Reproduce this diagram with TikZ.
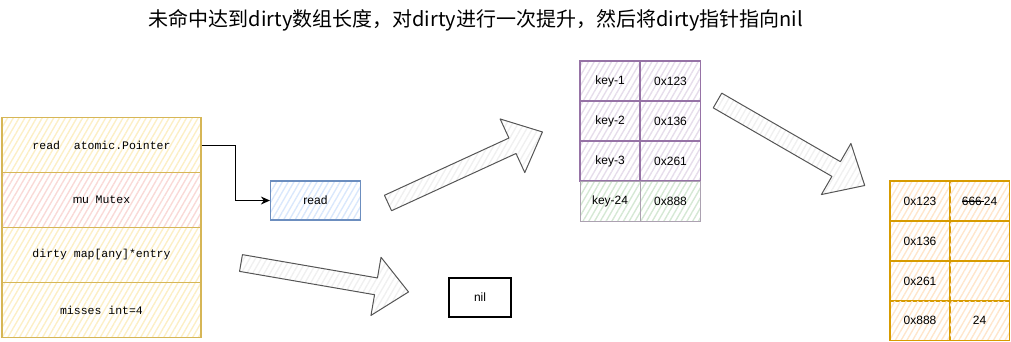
\documentclass[tikz,border=0pt]{standalone}
\usepackage{fontspec}
\setmainfont{Liberation Sans}
\newfontfamily\cjk{Noto Sans CJK SC}
\newfontfamily\monof{Liberation Mono}
\usetikzlibrary{patterns.meta,arrows.meta}
\definecolor{ylw}{HTML}{D6B656}
\definecolor{ylwf}{HTML}{FCEFC6}
\definecolor{pnkf}{HTML}{F9DAD7}
\definecolor{blu}{HTML}{6C8EBF}
\definecolor{bluf}{HTML}{DAE8FC}
\definecolor{pur}{HTML}{9673A6}
\definecolor{purf}{HTML}{E6DDEB}
\definecolor{grnf}{HTML}{D5E8D4}
\definecolor{org}{HTML}{D79B00}
\definecolor{orgf}{HTML}{FFE6CC}
\definecolor{arr}{HTML}{555555}
\newsavebox\strkbox
\newcommand\mystrike[1]{\sbox\strkbox{#1}\rlap{\rule[0.3em]{\wd\strkbox}{0.7pt}}\usebox{\strkbox}}
\newcommand\blockarrow[2]{%
  \begin{scope}[shift={#1},rotate=#2]
    \draw[barrow] (0,-8.5) -- (137,-8.5) -- (137,-29.5) -- (170,0) -- (137,29.5) -- (137,8.5) -- (0,8.5) -- cycle;
  \end{scope}}
\tikzset{
  hatch/.style={pattern={Lines[angle=60,distance=5pt,line width=1.4pt]},pattern color=#1},
  cell/.style={draw=#1,line width=1.2pt,inner sep=0pt,anchor=center},
  ycell/.style={cell=ylw,hatch=ylwf,minimum width=199pt,minimum height=55pt,font=\monof\fontsize{11.5}{13}\selectfont},
  pcell/.style={cell=pur,hatch=purf,minimum width=60pt,minimum height=40pt,font=\fontsize{12}{14}\selectfont},
  gcell/.style={draw=pur!40!gray!70,line width=0.9pt,inner sep=0pt,hatch=grnf,minimum width=60pt,minimum height=40pt,font=\fontsize{12}{14}\selectfont},
  ocell/.style={cell=org,hatch=orgf,minimum width=60pt,minimum height=40pt,font=\fontsize{12}{14}\selectfont},
  barrow/.style={draw=arr,line width=1pt,line join=round,hatch=black!6},
  conn/.style={draw=black,line width=1pt,-{Stealth[length=9pt,width=8pt]}},
}
\begin{document}
\begin{tikzpicture}[x=1pt,y=-1pt]
\useasboundingbox (0,0) rectangle (1011,341);
\node[font=\cjk\fontsize{20}{24}\selectfont] (title) at (476,20) {未命中达到dirty数组长度，对dirty进行一次提升，然后将dirty指针指向nil};
% left struct
\node[ycell] (r1) at (101.5,145) {read\ \ atomic.Pointer};
\node[ycell,hatch=pnkf] (r2) at (101.5,200) {{\fontspec{Liberation Sans}mu} Mutex};
\node[ycell] (r3) at (101.5,255) {dirty map[any]*entry};
\node[ycell] (r4) at (101.5,310) {misses int=4};
% read box
\node[cell=blu,hatch=bluf,minimum width=90pt,minimum height=39pt,font=\fontsize{12}{14}\selectfont] (rd) at (315.5,200.5) {read};
\draw[conn] (r1.east) -- ++(34,0) |- (rd.west);
% nil box
\node[cell=black,line width=1.2pt,minimum width=62pt,minimum height=39pt,font=\fontsize{12}{14}\selectfont] (nil) at (480,297.5) {nil};
% purple table
\node[pcell] (k1) at (610,81) {key-1};
\node[pcell] (v1) at (670.5,81) {0x123};
\node[pcell] (k2) at (610,121) {key-2};
\node[pcell] (v2) at (670.5,121) {0x136};
\node[pcell] (k3) at (610,161) {key-3};
\node[pcell] (v3) at (670.5,161) {0x261};
\node[gcell] (k4) at (610,201) {key-24};
\node[gcell] (v4) at (670.5,201) {0x888};
% orange table
\node[ocell] (o1) at (920,201) {0x123};
\node[ocell] (p1) at (979.5,201) {\mystrike{666}\mystrike{\,}24};
\node[ocell] (o2) at (920,241) {0x136};
\node[ocell] (p2) at (979.5,241) {};
\node[ocell] (o3) at (920,281) {0x261};
\node[ocell] (p3) at (979.5,281) {};
\node[ocell] (o4) at (920,320.5) {0x888};
\node[ocell] (p4) at (979.5,320.5) {24};
% block arrows
\blockarrow{(388,203)}{24.7}
\blockarrow{(241,263)}{-9.8}
\blockarrow{(717.5,100.5)}{-30}
\end{tikzpicture}
\end{document}
